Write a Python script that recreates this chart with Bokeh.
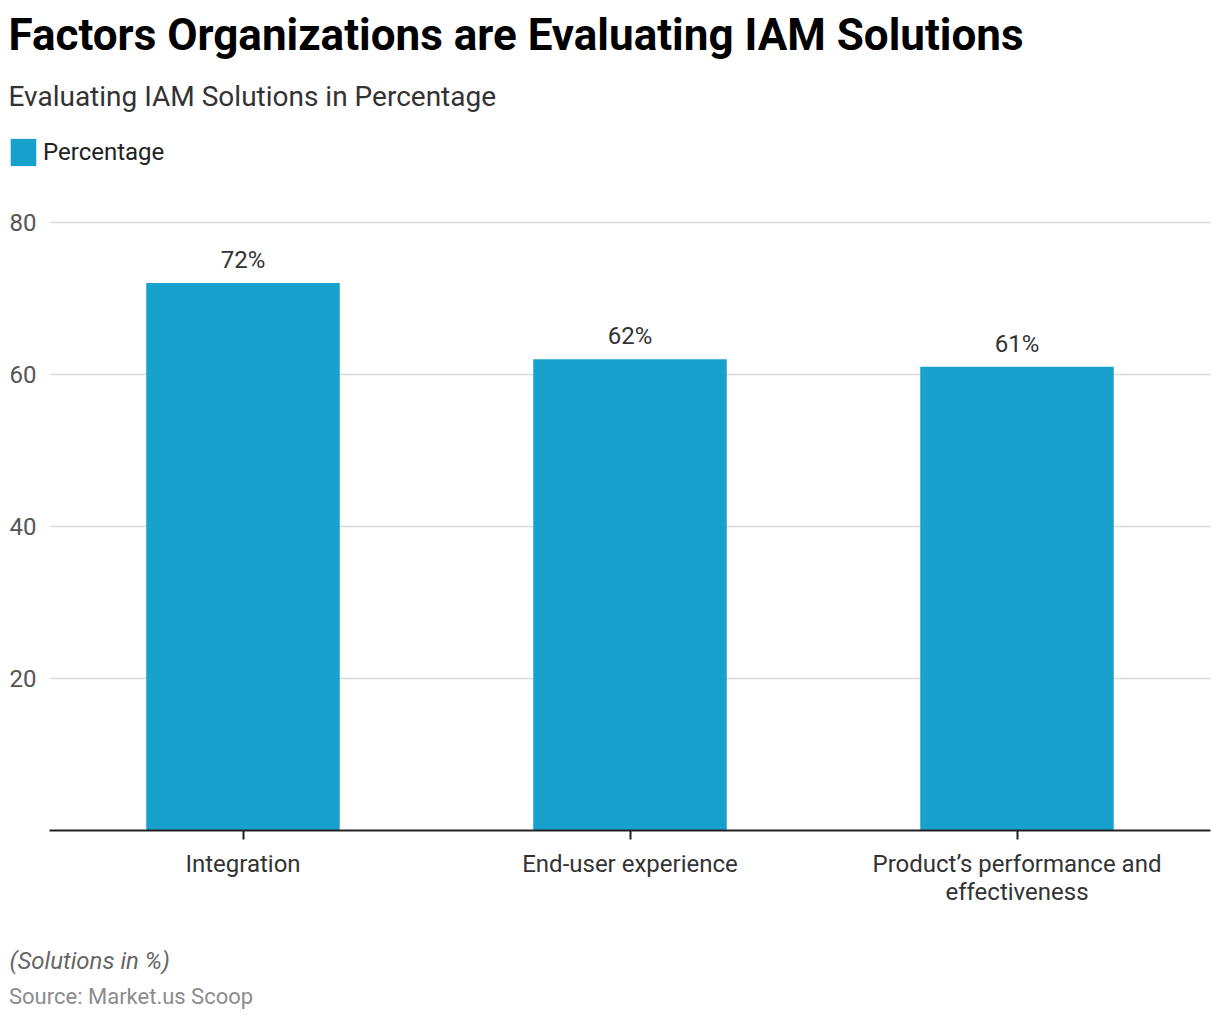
from bokeh.plotting import figure
from bokeh.layouts import column
from bokeh.models import (FactorRange, Range1d, Label, Legend, LegendItem,
                          ColumnDataSource, FixedTicker)
from bokeh.core.properties import value
from bokeh.embed import file_html
from bokeh.resources import INLINE

categories = ["Integration", "End-user experience", "Product’s performance and\neffectiveness"]
percentages = [72, 62, 61]
value_labels = ["72%", "62%", "61%"]
y_ticks = [20, 40, 60, 80]
series_name = "Percentage"

FONT = "Roboto"
BAR = "#19a1ce"
W = 1212


def blank_fig(h):
    f = figure(width=W, height=h, x_range=Range1d(0, W), y_range=Range1d(0, h),
               x_axis_type=None, y_axis_type=None, output_backend="svg",
               toolbar_location=None, min_border=0, frame_align=False)
    f.outline_line_color = None
    f.grid.visible = False
    return f


def add_label(f, text, x, y, size, color, style="normal"):
    f.add_layout(Label(text=text, x=x, y=y, text_font=FONT, text_font_size=size,
                       text_color=color, text_font_style=style,
                       text_baseline="alphabetic", text_align="left"))


# ---------- header ----------
head = blank_fig(200)
add_label(head, "Factors Organizations are Evaluating IAM Solutions", 8, 166, "44px", "#000000", "bold")
add_label(head, "Evaluating IAM Solutions in Percentage", 8, 104.5, "28px", "#333333")
# legend proxy (zero-height bar, only its style is used by the legend)
proxy = head.vbar(x=[0], top=[0], width=0, fill_color=BAR, line_color=None)
legend = Legend(items=[LegendItem(label=series_name, renderers=[proxy])],
                location=(7, 31), orientation="horizontal",
                glyph_width=32, glyph_height=34, label_height=34, label_standoff=4,
                padding=0, margin=0, border_line_color=None, background_fill_alpha=0,
                label_text_font=FONT, label_text_font_size="24px", label_text_color="#222222")
head.add_layout(legend, "center")

# ---------- main chart ----------
src = ColumnDataSource(dict(cat=categories, val=percentages, lab=value_labels))

p = figure(width=W, height=735, x_range=FactorRange(*categories, range_padding=0),
           y_range=Range1d(0, 80.5), output_backend="svg", toolbar_location=None,
           min_border_left=49, min_border_right=2, min_border_top=18, min_border_bottom=105,
           frame_align=False)
p.outline_line_color = None

bars = p.vbar(x="cat", top="val", width=0.5, source=src, fill_color=BAR, line_color=None)

p.text(x="cat", y="val", text="lab", source=src, text_align="center", text_baseline="bottom",
       y_offset=-9, text_font=value(FONT), text_font_size="24px", text_color="#333333")

p.yaxis.ticker = FixedTicker(ticks=y_ticks)
p.yaxis.axis_line_color = None
p.yaxis.major_tick_line_color = None
p.yaxis.minor_tick_line_color = None
p.yaxis.major_tick_in = 0
p.yaxis.major_tick_out = 0
p.yaxis.major_label_standoff = 13
p.yaxis.major_label_text_font = FONT
p.yaxis.major_label_text_font_size = "24px"
p.yaxis.major_label_text_color = "#555555"

p.xaxis.axis_line_color = "#222222"
p.xaxis.axis_line_width = 2
p.xaxis.major_tick_line_color = "#222222"
p.xaxis.major_tick_line_width = 2
p.xaxis.major_tick_in = 0
p.xaxis.major_tick_out = 9
p.xaxis.major_label_standoff = 10
p.xaxis.major_label_text_font = FONT
p.xaxis.major_label_text_font_size = "24px"
p.xaxis.major_label_text_color = "#333333"
p.xaxis.major_label_text_line_height = 1.0

p.xgrid.grid_line_color = None
p.ygrid.grid_line_color = "#d9d9d9"
p.ygrid.grid_line_width = 1.5

# ---------- footer ----------
foot = blank_fig(80)
add_label(foot, "(Solutions in %)", 9, 54.5, "24px", "#666666", "italic")
add_label(foot, "Source: Market.us Scoop", 8.5, 19, "22px", "#8c8c8c")

layout = column(head, p, foot, spacing=0)
open("out.html", "w").write(file_html(layout, INLINE))
